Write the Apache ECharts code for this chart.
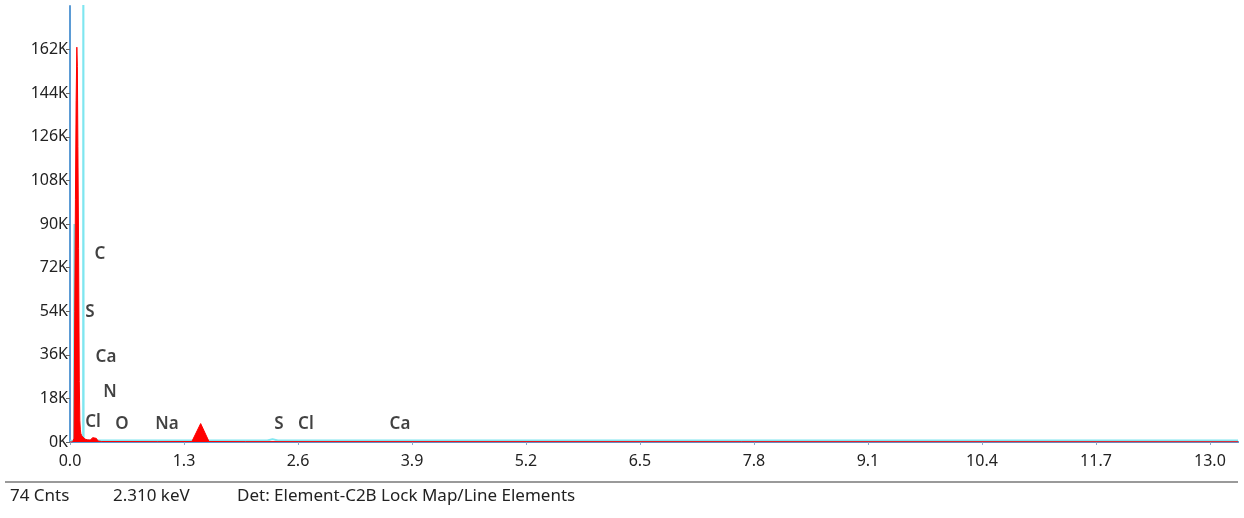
<!DOCTYPE html>
<html>
<head>
<meta charset="utf-8">
<script src="https://cdn.jsdelivr.net/npm/echarts@6/dist/echarts.min.js"></script>
<style>
  html, body { margin: 0; padding: 0; background: #fff; }
  #chart { width: 1244px; height: 518px; }
</style>
</head>
<body>
<div id="chart"></div>
<script>
// EDS spectrum: energy (keV) vs counts
const redEnergy = [0.00, 0.03, 0.046, 0.054, 0.062, 0.070, 0.078, 0.084, 0.090, 0.098, 0.106, 0.112, 0.118, 0.124, 0.135, 0.150, 0.170, 0.200, 0.230, 0.260, 0.280, 0.300, 0.320, 0.360, 1.00, 1.39, 1.49, 1.585, 2.00, 13.32];
const redCounts = [0, 0, 1500, 54000, 100000, 141000, 163000, 155000, 122000, 80000, 25000, 9000, 5000, 3500, 2500, 1800, 1200, 900, 800, 1800, 2600, 1500, 400, 200, 150, 200, 7600, 200, 150, 100];

const cyanEnergy = [0.00, 0.045, 0.050, 0.066, 0.100, 0.150, 0.152, 0.155, 0.20, 1.00, 2.25, 2.31, 2.37, 5.00, 13.32];
const cyanCounts = [500, 500, 90000, 90000, 500, 500, 250000, 600, 600, 600, 600, 1200, 600, 600, 600];

// Element line labels: [energy, counts, symbol]
const elementLabels = [
  [0.342, 77400, 'C'],
  [0.228, 53800, 'S'],
  [0.410, 35200, 'Ca'],
  [0.456, 20700, 'N'],
  [0.262, 8300, 'Cl'],
  [0.593, 7400, 'O'],
  [1.106, 7400, 'Na'],
  [2.383, 7400, 'S'],
  [2.690, 7400, 'Cl'],
  [3.763, 7400, 'Ca']
];

const footerItems = [
  { x: 10, text: '74 Cnts' },
  { x: 113, text: '2.310 keV' },
  { x: 237, text: 'Det: Element-C2B Lock Map/Line Elements' }
];

const xMax = 13.32;
const xStep = 1.3;
const yMax = 180000;
const yStep = 18000;

const pair = (xs, ys) => xs.map((x, i) => [x, ys[i]]);
const FONT = '"Noto Sans", "Open Sans", sans-serif';
const BLUE = '#5b9bd5';

const chart = echarts.init(document.getElementById('chart'), null, { renderer: 'canvas' });

chart.setOption({
  animation: false,
  backgroundColor: '#ffffff',
  grid: { left: 70, top: 6, right: 6, bottom: 76, containLabel: false },
  xAxis: [{
    type: 'value',
    min: 0,
    max: xMax,
    interval: xStep,
    position: 'bottom',
    axisLine: { show: true, onZero: false, lineStyle: { color: BLUE, width: 2 } },
    axisTick: { show: true, length: 3, lineStyle: { color: '#8aa9c8' } },
    splitLine: { show: false },
    axisLabel: {
      color: '#222', fontFamily: FONT, fontSize: 16, margin: 11,
      showMaxLabel: false,
      formatter: v => (Math.abs(v / xStep - Math.round(v / xStep)) < 1e-6 ? v.toFixed(1) : '')
    }
  }, {
    type: 'value',
    min: 0,
    max: xMax,
    position: 'top',
    axisLine: { show: true, lineStyle: { color: BLUE, width: 2 } },
    axisTick: { show: false },
    axisLabel: { show: false },
    splitLine: { show: false }
  }],
  yAxis: {
    type: 'value',
    min: 0,
    max: yMax,
    interval: yStep,
    axisLine: { show: true, lineStyle: { color: BLUE, width: 2 } },
    axisTick: { show: true, length: 4, lineStyle: { color: '#666' } },
    splitLine: { show: false },
    axisLabel: {
      color: '#222', fontFamily: FONT, fontSize: 16, margin: 2,
      showMaxLabel: false,
      formatter: v => (v / 1000) + 'K'
    }
  },
  series: [
    {
      name: 'cyan',
      type: 'line',
      data: pair(cyanEnergy, cyanCounts),
      symbol: 'none',
      clip: true,
      lineStyle: { color: '#7fe6f0', width: 2 },
      z: 2
    },
    {
      name: 'red',
      type: 'line',
      data: pair(redEnergy, redCounts),
      symbol: 'none',
      clip: true,
      lineStyle: { color: '#ff0000', width: 1 },
      areaStyle: { color: '#ff0000', opacity: 1 },
      z: 3
    },
    {
      name: 'labels',
      type: 'scatter',
      data: elementLabels.map(d => ({ value: [d[0], d[1]], name: d[2] })),
      symbolSize: 0,
      label: {
        show: true,
        position: 'inside',
        formatter: p => p.name,
        color: '#111',
        fontFamily: FONT,
        fontSize: 17,
        fontWeight: 600
      },
      z: 4
    }
  ],
  graphic: [
    {
      type: 'line',
      shape: { x1: 5, y1: 482, x2: 1238, y2: 482 },
      style: { stroke: '#9a9a9a', lineWidth: 2 }
    }
  ].concat(footerItems.map(f => ({
    type: 'text',
    left: f.x,
    top: 488,
    style: { text: f.text, fill: '#222', font: '17px ' + FONT }
  })))
});
</script>
</body>
</html>
